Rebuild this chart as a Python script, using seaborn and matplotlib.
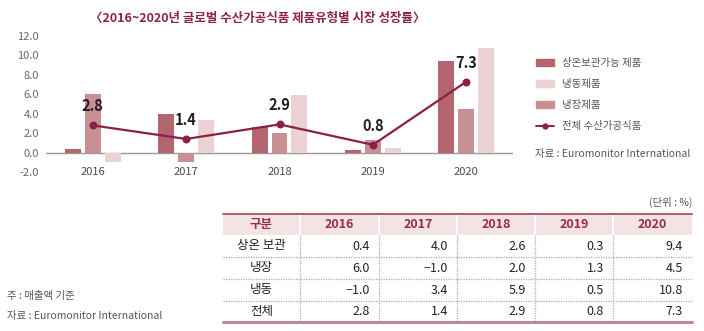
import numpy as np
import pandas as pd
import matplotlib
matplotlib.use("Agg")
import matplotlib.pyplot as plt
import seaborn as sns
from matplotlib.patches import Patch, Rectangle
from matplotlib.lines import Line2D

sns.set_theme(style="white")
plt.rcParams['font.family'] = ['Noto Sans CJK KR', 'DejaVu Sans']

years = ["2016", "2017", "2018", "2019", "2020"]
ambient = [0.4, 4.0, 2.6, 0.3, 9.4]     # 상온 보관
chilled = [6.0, -1.0, 2.0, 1.3, 4.5]    # 냉장
frozen = [-1.0, 3.4, 5.9, 0.5, 10.8]    # 냉동
total = [2.8, 1.4, 2.9, 0.8, 7.3]       # 전체

legend_names = ["상온보관가능 제품", "냉동제품", "냉장제품", "전체 수산가공식품"]
table_rows = ["상온 보관", "냉장", "냉동", "전체"]
title = "〈2016~2020년 글로벌 수산가공식품 제품유형별 시장 성장률〉"

c_amb, c_chi, c_fro = "#b4656d", "#c99093", "#ecd2d3"
c_line = "#8c1f48"

W, H = 704, 331
fig = plt.figure(figsize=(W / 100, H / 100), dpi=100)
fig.patch.set_facecolor("white")

def px(x0, y0, x1, y1):
    return [x0 / W, 1 - y1 / H, (x1 - x0) / W, (y1 - y0) / H]

ax = fig.add_axes(px(46, 36, 513, 172))

df = pd.DataFrame({
    "year": years * 3,
    "value": ambient + chilled + frozen,
    "type": ["상온"] * 5 + ["냉장"] * 5 + ["냉동"] * 5,
})
sns.barplot(data=df, x="year", y="value", hue="type",
            hue_order=["상온", "냉장", "냉동"],
            palette=[c_amb, c_chi, c_fro], width=0.64, gap=0.2,
            saturation=1, legend=False, ax=ax, errorbar=None,
            linewidth=0, edgecolor="none")
sns.pointplot(x=years, y=total, color=c_line, markers="o", markersize=4.5,
              linewidth=1.6, ax=ax, errorbar=None)

for i, v in enumerate(total):
    ax.annotate(f"{v:.1f}", (i, v), xytext=(0, 8), textcoords="offset points",
                ha="center", va="bottom", fontsize=10.5, color="#1e1e1e",
                fontweight="bold")

ax.axhline(0, color="#9a9a9a", lw=1, zorder=0.5)
ax.set_xlim(-0.5, 4.5)
ax.set_ylim(-2, 12)
ax.set_yticks(np.arange(-2, 12.1, 2))
ax.set_yticklabels([f"{t:.1f}" for t in np.arange(-2, 12.1, 2)],
                   fontsize=8, color="#666666")
ax.tick_params(axis="y", length=0, pad=5)
ax.set_xticks([])
ax.set_xlabel("")
ax.set_ylabel("")
for s in ax.spines.values():
    s.set_visible(False)
for i, y in enumerate(years):
    ax.text(i, -2, y, ha="center", va="center", fontsize=8,
            color="#4a4a4a", clip_on=False)

fig.text(258 / W, 1 - 18 / H, title, ha="center", va="center",
         fontsize=9, color="#8e2348", fontweight="bold")

handles = [Patch(color=c_amb), Patch(color=c_fro), Patch(color=c_chi),
           Line2D([0], [0], color=c_line, lw=1.4, marker="o", markersize=3.5)]
fig.legend(handles, legend_names, loc="upper left",
           bbox_to_anchor=(527 / W, 1 - 49 / H), frameon=False,
           fontsize=7.5, labelcolor="#555555", handlelength=1.7,
           handleheight=0.6, handletextpad=0.8, labelspacing=1.05)
fig.text(535 / W, 1 - 154 / H, "자료 : Euromonitor International",
         ha="left", va="center", fontsize=7.5, color="#555555")

# Table
tx0, ty0, tx1, ty1 = 223, 214, 692, 322
tab = fig.add_axes(px(tx0, ty0, tx1, ty1))
tab.set_xlim(tx0, tx1)
tab.set_ylim(ty1, ty0)
tab.axis("off")
cols = [223, 300, 379, 457, 535, 613, 692]
rows = [214, 235, 257, 279, 301, 322]
tab.add_patch(Rectangle((tx0, rows[0]), tx1 - tx0, rows[1] - rows[0],
                        facecolor="#f3e3e5", edgecolor="none"))
for cx in cols[1:-1]:
    tab.plot([cx, cx], [rows[0], rows[1]], color="white", lw=1.2)
    tab.plot([cx, cx], [rows[1], rows[-1]], color="#b8a4b4", lw=0.9,
             ls=(0, (1, 1)))
for ry in rows[2:-1]:
    tab.plot([tx0, tx1], [ry, ry], color="#b8a4b4", lw=0.9, ls=(0, (1, 1)))
tab.plot([tx0, tx1], [rows[0], rows[0]], color="#a8506a", lw=1.3,
         clip_on=False)
tab.plot([tx0, tx1], [rows[-1], rows[-1]], color="#b98a9f", lw=2.2,
         clip_on=False)

hdr = ["구분"] + years
for j, h in enumerate(hdr):
    tab.text((cols[j] + cols[j + 1]) / 2, (rows[0] + rows[1]) / 2, h,
             ha="center", va="center", fontsize=9, color="#9b2a4e",
             fontweight="bold")
data_rows = [ambient, chilled, frozen, total]
for r, (name, vals) in enumerate(zip(table_rows, data_rows)):
    yc = (rows[r + 1] + rows[r + 2]) / 2
    tab.text((cols[0] + cols[1]) / 2, yc, name, ha="center", va="center",
             fontsize=9, color="#222222")
    for j, v in enumerate(vals):
        s = f"{v:.1f}".replace("-", "−")
        tab.text(cols[j + 2] - 9, yc, s, ha="right", va="center",
                 fontsize=9, color="#222222")

fig.text(692 / W, 1 - 202 / H, "(단위 : %)", ha="right", va="center",
         fontsize=7.5, color="#555555")
fig.text(7 / W, 1 - 296 / H, "주 : 매출액 기준", ha="left", va="center",
         fontsize=7.5, color="#555555")
fig.text(7 / W, 1 - 316 / H, "자료 : Euromonitor International", ha="left",
         va="center", fontsize=7.5, color="#555555")

fig.savefig("out.png", dpi=100, facecolor="white")
